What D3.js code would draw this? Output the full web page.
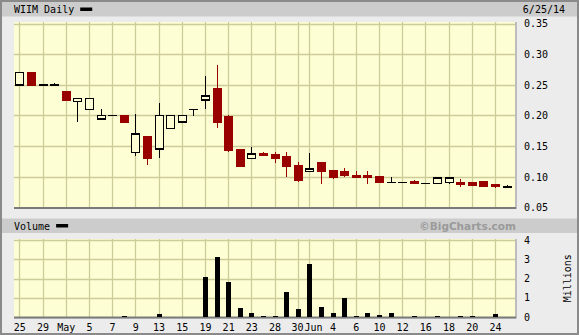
<!DOCTYPE html>
<html>
<head>
<meta charset="utf-8">
<script src="https://cdn.jsdelivr.net/npm/d3@7/dist/d3.min.js"></script>
<style>
  html, body { margin:0; padding:0; background:#ececec; }
  svg text { font-family:"DejaVu Sans Mono", monospace; font-size:10px; fill:#000; }
</style>
</head>
<body>
<div id="chart"></div>
<script>
// WIIM daily, trading days 4/25/14 - 6/25/14
var days = ["4/25","4/28","4/29","4/30","5/1","5/2","5/5","5/6","5/7","5/8","5/9",
  "5/12","5/13","5/14","5/15","5/16","5/19","5/20","5/21","5/22","5/23",
  "5/27","5/28","5/29","5/30","6/2","6/3","6/4","6/5","6/6","6/9","6/10",
  "6/11","6/12","6/13","6/16","6/17","6/18","6/19","6/20","6/23","6/24","6/25"];
var open  = [0.25,0.27,0.25,0.25,0.238,0.223,0.21,0.194,0.20,0.20,0.14,
  0.165,0.145,0.179,0.189,0.21,0.225,0.244,0.198,0.144,0.13,
  0.137,0.136,0.1325,0.118,0.109,0.123,0.11,0.108,0.102,0.102,0.10,
  0.091,0.091,0.092,0.0895,0.0895,0.091,0.0905,0.0905,0.0917,0.0873,0.0835];
var high  = [0.27,0.27,0.25,0.253,0.238,0.228,0.228,0.21,0.20,0.20,0.203,
  0.165,0.221,0.20,0.20,0.21,0.265,0.282,0.201,0.144,0.149,
  0.141,0.141,0.141,0.124,0.139,0.123,0.11,0.1145,0.11,0.11,0.10,
  0.10,0.091,0.095,0.0895,0.0977,0.0977,0.097,0.0905,0.0917,0.0873,0.0863];
var low   = [0.25,0.25,0.25,0.25,0.225,0.19,0.21,0.194,0.20,0.189,0.134,
  0.12,0.13,0.179,0.189,0.20,0.211,0.179,0.14,0.118,0.13,
  0.135,0.123,0.099,0.092,0.109,0.089,0.097,0.099,0.0987,0.089,0.0905,
  0.091,0.091,0.089,0.0895,0.0895,0.0884,0.084,0.0863,0.0851,0.082,0.0835];
var close = [0.27,0.25,0.25,0.25,0.225,0.228,0.228,0.20,0.20,0.189,0.17,
  0.13,0.20,0.20,0.20,0.21,0.232,0.189,0.143,0.118,0.137,
  0.135,0.13,0.118,0.094,0.113,0.109,0.10,0.102,0.0987,0.0987,0.0905,
  0.091,0.091,0.089,0.0895,0.0977,0.0977,0.0873,0.0863,0.0851,0.084,0.0835];
// volume in millions
var volume = [0,0,0,0,0,0,0,0,0,0.05,0,
  0,0.15,0,0,0,2.09,3.12,1.83,0.48,0.22,
  0.07,0.07,1.31,0.43,2.76,0.52,0.22,1.0,0.05,0.22,0.12,
  0.22,0,0.05,0,0.05,0,0.05,0.05,0,0.17,0];

// x axis labels (index into days)
var tickIndex  = [0,2,4,6,8,10,12,14,16,18,20,22,24,25,27,29,31,33,35,37,39,41];
var tickLabels = ["25","29","May","5","7","9","13","15","19","21","23","28",
  "30","Jun","4","6","10","12","16","18","20","24"];
var priceTicks  = [0.05,0.10,0.15,0.20,0.25,0.30,0.35];
var volumeTicks = [0,1,2,3,4];

var title = "WIIM Daily";
var dateText = "6/25/14";

/** Layout **/
var W = 579, H = 335;
var layout = {
  left: 14, right: 515,
  price:  {top: 23.5, bottom: 207.5},
  volume: {top: 239.5, bottom: 317}
};
var colors = {
  bg: "#ececec", bar: "#cccccc", plot: "#fefed5", grid: "#cccc99",
  down: "#990000", shadow: "#8c8c8c"
};

var svg = d3.select("#chart").append("svg")
  .attr("width", W).attr("height", H);

// frame
svg.append("rect").attr("x", 1).attr("y", 1).attr("width", W - 2).attr("height", H - 2)
  .attr("fill", colors.bg).attr("stroke", "#8a8a8a").attr("stroke-width", 2);

// scales
var x = d3.scaleLinear().domain([-0.46, 42.73]).range([layout.left, layout.right]);
var y = d3.scaleLinear().domain([0.05, 0.35]).range([layout.price.bottom, layout.price.top]);
var v = d3.scaleLinear().domain([0, 4]).range([layout.volume.bottom, layout.volume.top + 0.5]);

drawHeader(2, title, dateText);
drawHeader(218.5, "Volume", null);

// copyright
svg.append("text").attr("x", 516).attr("y", 229.5).attr("text-anchor", "end")
  .style("font-family", "'DejaVu Sans', sans-serif").style("font-size", "10.5px")
  .style("font-weight", "bold").style("fill", "#9a9a9a")
  .text("\u00a9BigCharts.com");

drawPanel(layout.price.top - 1.5, layout.price.bottom, y, priceTicks.slice(1), priceTicks, d3.format(".2f"));
drawPanel(layout.volume.top - 0.5, layout.volume.bottom, v, volumeTicks.slice(1), volumeTicks, d3.format("d"));

// Millions label
svg.append("text")
  .attr("transform", "translate(567," + ((layout.volume.top + layout.volume.bottom) / 2) + ") rotate(-90)")
  .attr("text-anchor", "middle").attr("dy", "0.35em")
  .text("Millions");

// x axis labels
var xAxis = d3.axisBottom(x).tickValues(tickIndex).tickSize(0).tickPadding(6)
  .tickFormat(function(d, i){ return tickLabels[i]; });
svg.append("g").attr("transform", "translate(0," + (layout.volume.bottom + 1) + ")")
  .call(xAxis)
  .call(function(g){ g.select(".domain").remove(); })
  .selectAll("text").style("font-family", "'DejaVu Sans Mono', monospace").style("font-size", "10px")
  .each(function(d){
    // "30" and "Jun" sit side by side, butting against each other
    var mid = (x(24) + x(25)) / 2;
    if(d == 24){ d3.select(this).attr("text-anchor", "end").attr("x", mid - x(24) - 0.5); }
    if(d == 25){ d3.select(this).attr("text-anchor", "start").attr("x", mid - x(25) + 0.5); }
  });

drawCandles();
drawVolume();

function drawHeader(top, label, right){
  svg.append("rect").attr("x", 2).attr("y", top).attr("width", W - 4).attr("height", 14.5)
    .attr("fill", colors.bar);
  var t = svg.append("text").attr("x", 14).attr("y", top + 11).text(label);
  var w = t.node().getComputedTextLength();
  svg.append("rect").attr("x", 14 + w + 6).attr("y", top + 5.5).attr("width", 12).attr("height", 3.5)
    .attr("fill", "#000");
  if(right){
    svg.append("text").attr("x", 565).attr("y", top + 11).attr("text-anchor", "end").text(right);
  }
}

function drawPanel(top, bottom, scale, gridVals, labelVals, fmt){
  var g = svg.append("g");
  // right shadow
  g.append("rect").attr("x", layout.left).attr("y", top)
    .attr("width", layout.right - layout.left + 2).attr("height", bottom - top + 1.5)
    .attr("fill", "#bdbdbd");
  g.append("rect").attr("x", layout.left).attr("y", top)
    .attr("width", layout.right - layout.left).attr("height", bottom - top)
    .attr("fill", colors.plot);
  // vertical grid
  g.selectAll("line.vgrid").data(tickIndex).enter().append("line")
    .attr("x1", function(d){ return Math.round(x(d)) + 0.5; })
    .attr("x2", function(d){ return Math.round(x(d)) + 0.5; })
    .attr("y1", top).attr("y2", bottom)
    .attr("stroke", colors.grid).attr("stroke-width", 1.3);
  // horizontal grid
  g.selectAll("line.hgrid").data(gridVals).enter().append("line")
    .attr("x1", layout.left).attr("x2", layout.right)
    .attr("y1", function(d){ return Math.round(scale(d)) + 0.5; })
    .attr("y2", function(d){ return Math.round(scale(d)) + 0.5; })
    .attr("stroke", colors.grid).attr("stroke-width", 1.3);
  // bottom shadow
  g.append("line").attr("x1", layout.left).attr("x2", layout.right + 1)
    .attr("y1", bottom + 0.5).attr("y2", bottom + 0.5)
    .attr("stroke", "#7a7a7a").attr("stroke-width", 2);
  // right axis labels
  var axis = d3.axisRight(scale).tickValues(labelVals).tickSize(0).tickPadding(0).tickFormat(fmt);
  svg.append("g").attr("transform", "translate(524,0)")
    .call(axis)
    .call(function(a){ a.select(".domain").remove(); })
    .selectAll("text").style("font-family", "'DejaVu Sans Mono', monospace").style("font-size", "10px");
}

function drawCandles(){
  var g = svg.append("g").attr("shape-rendering", "crispEdges");
  var idx = d3.range(days.length);
  var bw = 8;
  // wicks
  g.selectAll("line.wick").data(idx).enter().append("line")
    .attr("x1", function(i){ return Math.round(x(i)) + 0.5; })
    .attr("x2", function(i){ return Math.round(x(i)) + 0.5; })
    .attr("y1", function(i){ return y(high[i]); })
    .attr("y2", function(i){ return y(low[i]); })
    .attr("stroke", function(i){ return close[i] < open[i] ? colors.down : "#000"; })
    .attr("stroke-width", 1.5);
  // bodies
  g.selectAll("rect.body").data(idx.filter(function(i){ return close[i] != open[i]; }))
    .enter().append("rect")
    .attr("x", function(i){ return Math.round(x(i)) - bw / 2 + 0.5; })
    .attr("y", function(i){ return y(Math.max(open[i], close[i])); })
    .attr("width", bw)
    .attr("height", function(i){ return Math.max(1, Math.abs(y(open[i]) - y(close[i]))); })
    .attr("fill", function(i){ return close[i] < open[i] ? colors.down : colors.plot; })
    .attr("stroke", function(i){ return close[i] < open[i] ? colors.down : "#000"; })
    .attr("stroke-width", 1.5);
  // doji
  g.selectAll("line.doji").data(idx.filter(function(i){ return close[i] == open[i]; }))
    .enter().append("line")
    .attr("x1", function(i){ return Math.round(x(i)) - bw / 2; })
    .attr("x2", function(i){ return Math.round(x(i)) + bw / 2 + 1; })
    .attr("y1", function(i){ return y(close[i]); })
    .attr("y2", function(i){ return y(close[i]); })
    .attr("stroke", "#000").attr("stroke-width", 1.5);
}

function drawVolume(){
  var g = svg.append("g").attr("shape-rendering", "crispEdges");
  var idx = d3.range(days.length).filter(function(i){ return volume[i] > 0; });
  g.selectAll("rect.vol").data(idx).enter().append("rect")
    .attr("x", function(i){ return Math.round(x(i)) - 2; })
    .attr("y", function(i){ return v(volume[i]); })
    .attr("width", 5)
    .attr("height", function(i){ return Math.max(1, v(0) - v(volume[i])); })
    .attr("fill", "#000");
}
</script>
</body>
</html>
